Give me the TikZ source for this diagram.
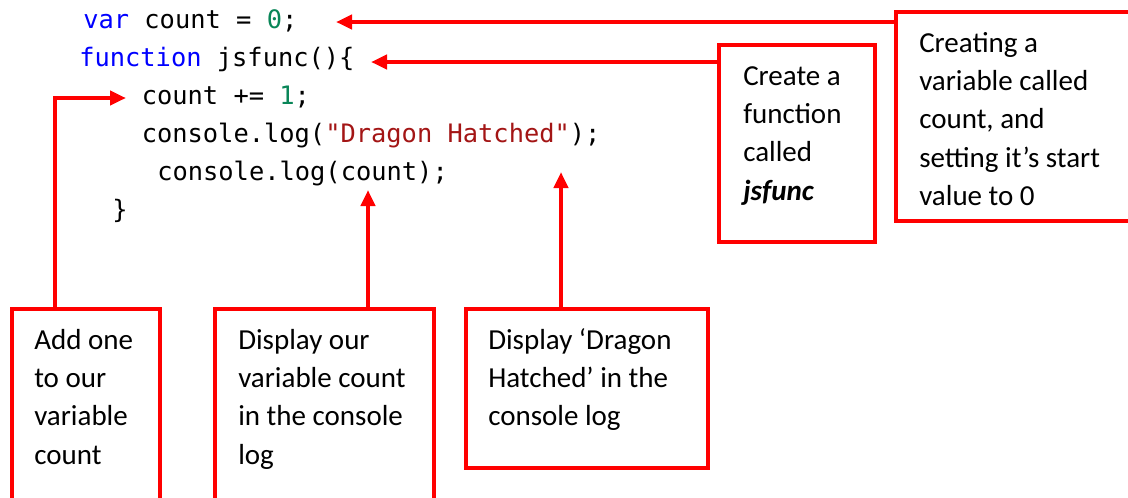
\documentclass[tikz,border=0pt]{standalone}
\usepackage{fontspec}
\setmainfont{Carlito}
\newfontfamily\codefont{DejaVu Sans Mono}
\usetikzlibrary{arrows.meta,fit}
\definecolor{cred}{RGB}{255,0,0}
\definecolor{kwblue}{RGB}{0,0,255}
\definecolor{numgreen}{RGB}{9,134,88}
\definecolor{strred}{RGB}{163,21,21}
\newcommand{\toplines}[1]{\parbox[t]{300pt}{\raggedright #1}}
\tikzset{
 box/.style={draw=cred, line width=3.4pt, inner sep=0pt},
 lbl/.style={anchor=base west, inner sep=0pt, font=\fontsize{21.75}{28.8}\selectfont},
 code/.style={anchor=base west, inner sep=0pt, font=\codefont\fontsize{19.05}{28.8}\selectfont},
 conn/.style={draw=cred, line width=3pt, -{Triangle[length=12pt,width=10.5pt]}},
}
\begin{document}
\begin{tikzpicture}[x=0.75pt,y=-0.75pt]
\useasboundingbox (0,0) rectangle (1128,497);
\clip (0,0) rectangle (1128,497);
% code lines
\node[code] (l1) at (83,28) {\textcolor{kwblue}{var} count = \textcolor{numgreen}{0};};
\node[code] (l2) at (79,66) {\textcolor{kwblue}{function} jsfunc()\{};
\node[code] (l3) at (141.5,104) {count += \textcolor{numgreen}{1};};
\node[code] (l4) at (141.5,142) {console.log(\textcolor{strred}{"Dragon Hatched"});};
\node[code] (l5) at (157,180) {console.log(count);};
\node[code] (l6) at (112,218) {\}};
% boxes
\node[box, fit={(896,12) (1150,221)}] (boxvar) {};
\node[box, fit={(719,45) (875,242)}] (boxfunc) {};
\node[box, fit={(12,309) (160,530)}] (boxadd) {};
\node[box, fit={(215,309) (434,530)}] (boxcount) {};
\node[box, fit={(466,309) (708,468)}] (boxdragon) {};
% labels
\node[lbl] (tvar) at (919,52) {\toplines{Creating a\\variable called\\count, and\\setting it’s start\\value to 0}};
\node[lbl] (tfunc) at (743,85) {\toplines{Create a\\function\\called\\\textbf{\textit{jsfunc}}}};
\node[lbl] (tadd) at (34,349) {\toplines{Add one\\to our\\variable\\count}};
\node[lbl] (tcount) at (238,349) {\toplines{Display our\\variable count\\in the console\\log}};
\node[lbl] (tdragon) at (488,349) {\toplines{Display ‘Dragon\\Hatched’ in the\\console log}};
% connectors
\coordinate (p1) at (336,22);
\draw[conn] (p1 -| boxvar.west) -- (p1);
\coordinate (p2) at (371,62);
\draw[conn] (p2 -| boxfunc.west) -- (p2);
\coordinate (k3) at (55,98);
\coordinate (p3) at (126,98);
\draw[conn] (k3 |- boxadd.north) -- (k3) -- (p3);
\coordinate (p4) at (368,190);
\draw[conn] (p4 |- boxcount.north) -- (p4);
\coordinate (p5) at (561,172);
\draw[conn] (p5 |- boxdragon.north) -- (p5);
\end{tikzpicture}
\end{document}
